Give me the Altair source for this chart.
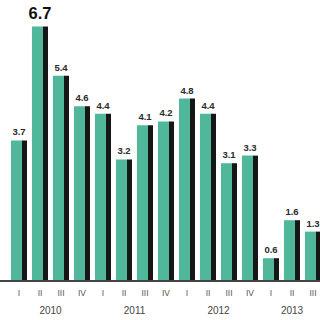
import altair as alt
import pandas as pd

quarters = ["I", "II", "III", "IV", "I", "II", "III", "IV", "I", "II", "III", "IV", "I", "II", "III"]
years = ["2010", "2011", "2012", "2013"]
year_of_bar = ["2010"] * 4 + ["2011"] * 4 + ["2012"] * 4 + ["2013"] * 3
values = [3.7, 6.7, 5.4, 4.6, 4.4, 3.2, 4.1, 4.2, 4.8, 4.4, 3.1, 3.3, 0.6, 1.6, 1.3]

df = pd.DataFrame({
    "i": list(range(len(values))),
    "q": quarters,
    "year": year_of_bar,
    "v": values,
})
df["label"] = df["v"].map(lambda x: f"{x:.1f}")
df["big"] = df["v"] == df["v"].max()
df["zero"] = 0.0

ydf = pd.DataFrame({"year": years})
ydf["i"] = [df[df.year == y]["i"].mean() for y in years]

FONT = "Liberation Sans"
xs = alt.Scale(domain=[-0.905, 14.333], nice=False, zero=False, padding=0)
ys = alt.Scale(domain=[-1.026, 7.395], nice=False, zero=False, padding=0)
X = alt.X("i:Q", scale=xs, axis=None)
Y = alt.Y("v:Q", scale=ys, axis=None)

teal = alt.Chart(df).mark_bar(width=11.5, xOffset=-2.3, color="#50b79a").encode(
    x=X, y=Y, y2="zero:Q"
)
dark = alt.Chart(df).mark_bar(width=5, xOffset=5.5, color="#161616").encode(
    x=X, y=Y, y2="zero:Q"
)
base = alt.Chart(df).mark_rule(color="#444444", strokeWidth=1).encode(
    x=alt.value(0), x2=alt.value(320), y=alt.Y("zero:Q", scale=ys, axis=None)
)
lab_small = alt.Chart(df[~df.big]).mark_text(
    font=FONT, fontSize=9.5, fontWeight="bold", color="#2a2a2a", baseline="bottom", dy=-3
).encode(x=X, y=Y, text="label:N")
lab_big = alt.Chart(df[df.big]).mark_text(
    font=FONT, fontSize=16.5, fontWeight="bold", color="#111111", baseline="bottom", dy=-4
).encode(x=X, y=Y, text="label:N")
qlab = alt.Chart(df).mark_text(
    font=FONT, fontSize=8.5, baseline="middle"
).encode(x=X, y=alt.value(293), text="q:N", color=alt.value("#555555"))
ylab = alt.Chart(ydf).mark_text(
    font=FONT, fontSize=10, baseline="middle"
).encode(x=X, y=alt.value(311), text="year:N", color=alt.value("#444444"))

chart = alt.layer(teal, dark, base, lab_small, lab_big, qlab, ylab).properties(
    width=320, height=320, padding=0, autosize=alt.AutoSizeParams(type="none"),
    background="white"
).configure_view(stroke=None)

chart.save("out.html", embed_options={"renderer": "svg", "actions": False})
